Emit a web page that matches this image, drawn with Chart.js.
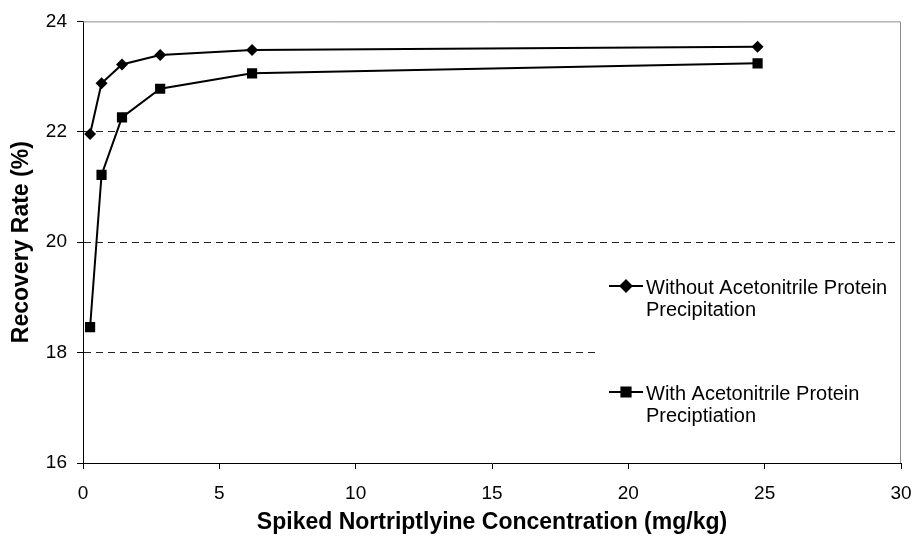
<!DOCTYPE html>
<html>
<head>
<meta charset="utf-8">
<script src="https://cdn.jsdelivr.net/npm/chart.js@4"></script>
<style>
  html, body { margin: 0; padding: 0; background: #fff; }
  #wrap { width: 914px; height: 541px; position: relative; }
</style>
</head>
<body>
<div id="wrap"><canvas id="c" width="914" height="541"></canvas></div>
<script>
// ---- data ----
const concentrations = [0.26, 0.68, 1.43, 2.83, 6.2, 24.74];
const withoutPrecipitation = [21.96, 22.88, 23.22, 23.39, 23.48, 23.54];
const withPrecipitation = [18.46, 21.22, 22.26, 22.78, 23.06, 23.24];
const seriesNames = [
  ['Without Acetonitrile Protein', 'Precipitation'],
  ['With Acetonitrile Protein', 'Preciptiation']
];
const xTicks = [0, 5, 10, 15, 20, 25, 30];
const yTicks = [16, 18, 20, 22, 24];
const xTitle = 'Spiked Nortriptlyine Concentration (mg/kg)';
const yTitle = 'Recovery Rate (%)';

const FONT = '"Liberation Sans", Arial, sans-serif';

function toPoints(xs, ys) { return xs.map((x, i) => ({ x: x, y: ys[i] })); }

const styles = [
  { pointStyle: 'rectRot', radius: 6 },
  { pointStyle: 'rect', radius: 7.2 }
];

const frameAndLegend = {
  id: 'frameAndLegend',
  afterDraw(chart) {
    const ctx = chart.ctx;
    const a = chart.chartArea;
    ctx.save();
    // legend box (white, covers grid)
    const bx = 599, by = 256;
    ctx.fillStyle = '#fff';
    ctx.fillRect(bx, by, a.right - bx - 1, a.bottom - by - 1);
    // top and right frame of plot area
    ctx.strokeStyle = '#8c8c8c';
    ctx.lineWidth = 1;
    ctx.setLineDash([]);
    ctx.beginPath();
    ctx.moveTo(a.left, a.top + 0.5);
    ctx.lineTo(a.right - 0.5, a.top + 0.5);
    ctx.lineTo(a.right - 0.5, a.bottom);
    ctx.stroke();
    // legend entries
    const entries = [{ y: 286 }, { y: 392 }];
    ctx.font = '20px ' + FONT;
    ctx.textBaseline = 'middle';
    ctx.textAlign = 'left';
    entries.forEach((e, i) => {
      ctx.strokeStyle = '#000';
      ctx.lineWidth = 2;
      ctx.beginPath();
      ctx.moveTo(609, e.y);
      ctx.lineTo(643, e.y);
      ctx.stroke();
      Chart.helpers.drawPoint(ctx, {
        pointStyle: styles[i].pointStyle,
        radius: i === 0 ? 5.5 : 6.5,
        borderWidth: 1
      }, 626, e.y);
      ctx.fillStyle = '#000';
      ctx.fill();
      ctx.fillStyle = '#000';
      seriesNames[i].forEach((line, k) => {
        ctx.fillText(line, 646, e.y + 2 + k * 22);
      });
    });
    ctx.restore();
  }
};

const datasets = [withoutPrecipitation, withPrecipitation].map((vals, i) => ({
  label: seriesNames[i].join(' '),
  data: toPoints(concentrations, vals),
  borderColor: '#000',
  backgroundColor: '#000',
  borderWidth: 2,
  pointStyle: styles[i].pointStyle,
  pointRadius: styles[i].radius,
  pointHoverRadius: styles[i].radius,
  pointBackgroundColor: '#000',
  pointBorderColor: '#000',
  pointBorderWidth: 0,
  tension: 0,
  fill: false
}));

new Chart(document.getElementById('c'), {
  type: 'line',
  data: { datasets: datasets },
  options: {
    responsive: false,
    animation: false,
    devicePixelRatio: 1,
    layout: { padding: { left: 0, right: 13, top: 19, bottom: 0 } },
    plugins: {
      legend: { display: false },
      tooltip: { enabled: false }
    },
    scales: {
      x: {
        type: 'linear',
        min: 0, max: 30,
        afterBuildTicks(s) { s.ticks = xTicks.map(v => ({ value: v })); },
        afterFit(s) { s.height = 78; s.paddingRight = 0; s.paddingLeft = 0; },
        ticks: {
          font: { family: FONT, size: 19 },
          color: '#000',
          padding: 13,
          maxRotation: 0,
          autoSkip: false
        },
        grid: {
          drawOnChartArea: false,
          drawTicks: true,
          tickLength: 6,
          tickColor: '#000'
        },
        border: { display: true, color: '#000', width: 1 },
        title: {
          display: true,
          text: xTitle,
          color: '#000',
          font: { family: FONT, size: 23, weight: 'bold' },
          padding: { top: 0, bottom: 5 }
        }
      },
      y: {
        type: 'linear',
        min: 16, max: 24,
        afterBuildTicks(s) { s.ticks = yTicks.map(v => ({ value: v })); },
        afterFit(s) { s.width = 83; },
        ticks: {
          font: { family: FONT, size: 19 },
          color: '#000',
          padding: 10,
          autoSkip: false
        },
        grid: {
          drawOnChartArea: true,
          drawTicks: true,
          tickLength: 6,
          tickColor: '#000',
          lineWidth: 1,
          color: (c) => (c.tick && (c.tick.value === 16 || c.tick.value === 24)) ? 'rgba(0,0,0,0)' : '#222'
        },
        border: { display: true, color: '#000', width: 1, dash: [7, 5] },
        title: {
          display: true,
          text: yTitle,
          color: '#000',
          font: { family: FONT, size: 23, weight: 'bold' },
          padding: { top: 8, bottom: 0 }
        }
      }
    }
  },
  plugins: [frameAndLegend]
});
</script>
</body>
</html>
